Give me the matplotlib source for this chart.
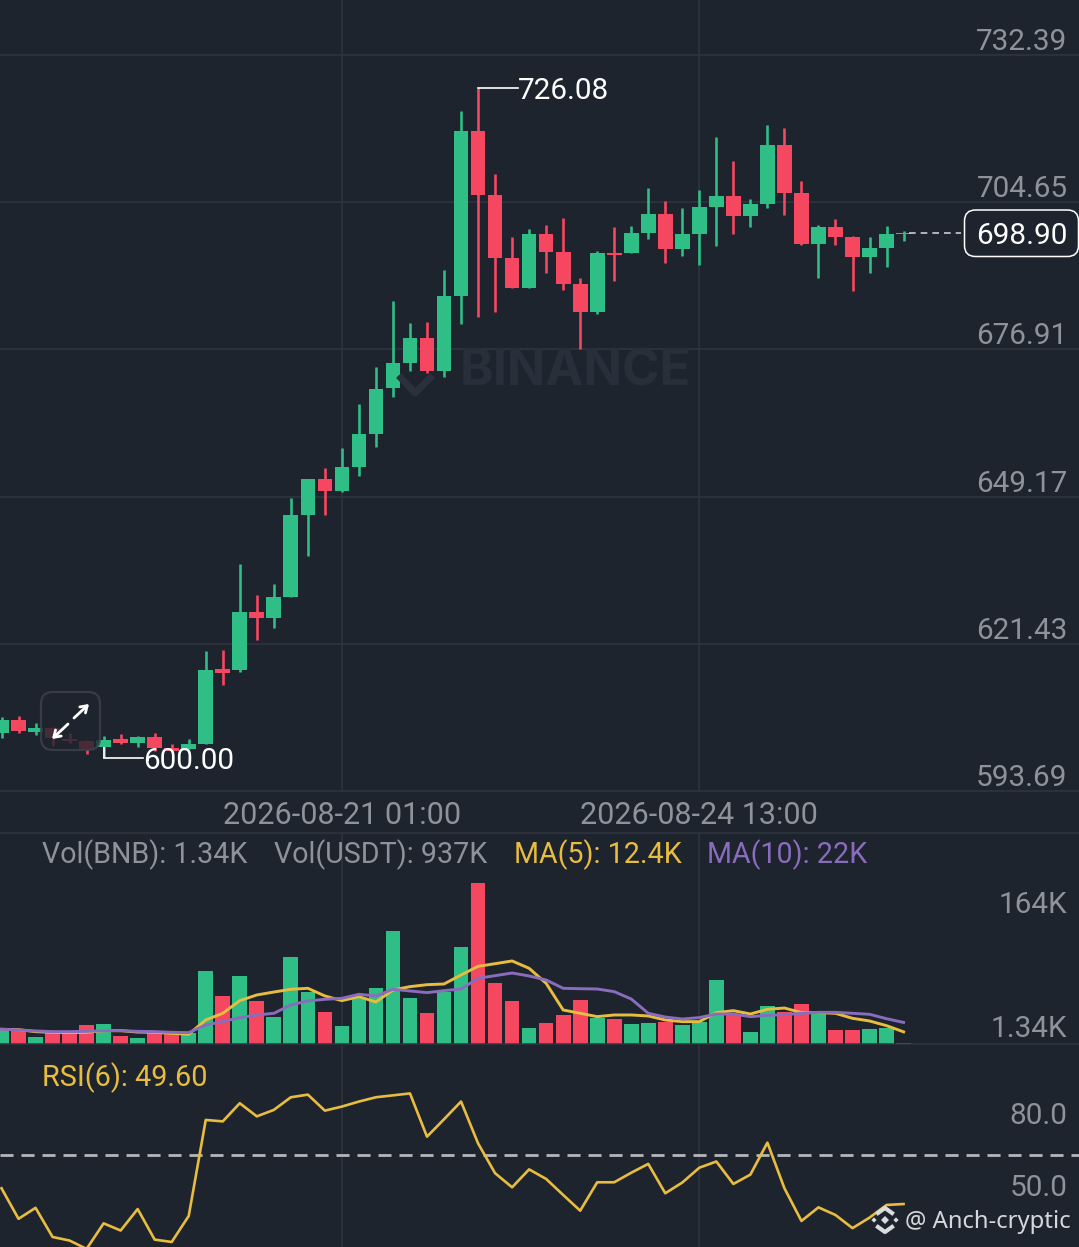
import matplotlib
matplotlib.use("Agg")
import matplotlib.pyplot as plt
from matplotlib.lines import Line2D
from matplotlib.patches import FancyBboxPatch, Polygon

W, H = 1079, 1247
BG = "#1e242e"
GRID = "#30353f"
GREEN = "#2fbe85"
RED = "#f5475f"
YELLOW = "#e8bd3f"
PURPLE = "#8a6cbc"
LABEL = "#8d9399"

plt.rcParams["font.family"] = ["Roboto", "DejaVu Sans"]

# ohlc
opens = [604.68, 607.07, 604.81, 605.56, 603.54, 603.17, 601.93, 603.44, 602.80, 603.81,
         601.74, 601.61, 602.55, 616.77, 616.49, 627.37, 626.23, 630.31, 645.70, 652.49,
         650.28, 654.69, 660.97, 669.58, 674.40, 679.00, 672.90, 686.97, 718.07, 706.01,
         694.08, 688.43, 698.60, 695.27, 689.24, 683.90, 695.13, 695.02, 698.79, 702.37,
         695.77, 698.66, 703.69, 705.82, 702.05, 704.31, 715.43, 706.33, 696.72, 700.03,
         698.04, 694.38, 696.08, 698.66]
highs = [607.69, 607.83, 606.51, 605.75, 604.68, 603.30, 604.06, 604.37, 604.06, 604.68,
         602.55, 603.44, 620.07, 620.26, 636.47, 630.63, 632.64, 648.96, 652.49, 654.50,
         658.27, 666.62, 673.65, 686.09, 681.94, 682.07, 691.87, 721.84, 726.08, 709.96,
         698.03, 699.60, 700.35, 701.73, 690.31, 695.45, 700.03, 700.22, 707.27, 704.93,
         703.50, 706.95, 716.88, 712.41, 705.20, 719.20, 718.58, 708.70, 700.35, 701.43,
         698.34, 698.15, 700.17, 699.28]
lows = [603.68, 604.68, 604.24, 602.17, 602.80, 600.67, 600.00, 602.55, 602.04, 601.29,
        601.10, 601.55, 602.55, 613.67, 616.17, 622.15, 624.35, 630.31, 638.03, 645.70,
        650.09, 653.05, 658.57, 667.88, 672.90, 672.52, 671.65, 681.70, 683.07, 684.01,
        688.43, 688.43, 691.25, 688.10, 676.93, 683.53, 689.86, 695.02, 697.72, 693.25,
        694.51, 692.82, 696.39, 698.60, 700.03, 703.61, 702.24, 696.58, 690.31, 696.58,
        687.92, 691.37, 692.50, 697.39]
closes = [607.07, 605.05, 605.56, 603.68, 603.11, 601.55, 603.30, 602.80, 603.81, 601.74,
          601.29, 602.55, 616.49, 615.93, 627.37, 626.23, 630.31, 645.70, 652.49, 650.28,
          654.69, 660.97, 669.45, 674.29, 679.00, 672.90, 686.88, 718.07, 706.01, 694.08,
          688.43, 698.60, 695.27, 689.24, 683.90, 695.13, 694.64, 698.79, 702.37, 695.77,
          698.66, 703.69, 705.82, 702.05, 704.31, 715.43, 706.33, 696.72, 700.03, 698.04,
          694.38, 695.96, 698.60, 698.90]

# volume in thousands
volume = [13.6, 13.0, 6.8, 10.9, 10.9, 19.4, 20.4, 8.2, 6.5, 10.9,
          10.2, 10.9, 74.5, 49.0, 69.7, 43.5, 27.9, 88.7, 53.4, 32.6,
          18.7, 46.6, 57.5, 115.6, 46.6, 32.0, 53.4, 98.6, 164.0, 61.9,
          43.5, 16.3, 21.1, 29.2, 44.9, 26.2, 25.5, 20.4, 21.4, 22.8,
          19.0, 22.8, 65.3, 30.6, 12.2, 38.8, 33.0, 41.1, 31.3, 13.9,
          14.6, 15.3, 16.7, 1.34]
ma5 = [15.0, 14.6, 12.6, 11.9, 11.6, 11.9, 13.6, 13.6, 12.2, 11.9,
       10.9, 9.9, 24.5, 31.3, 44.2, 50.0, 53.0, 55.8, 56.8, 49.0,
       44.2, 48.3, 42.8, 55.1, 58.5, 60.5, 61.2, 70.4, 79.2, 81.9,
       84.7, 77.2, 61.9, 34.7, 31.3, 27.9, 29.6, 29.6, 28.6, 24.5,
       22.8, 22.8, 32.0, 34.0, 30.6, 35.4, 36.7, 32.0, 32.0, 31.3,
       26.2, 23.5, 18.7, 12.4]
ma10 = [15.0, 14.3, 13.3, 12.6, 12.6, 12.9, 13.6, 13.6, 12.9, 12.6,
        11.9, 11.6, 19.4, 22.8, 26.9, 29.6, 31.3, 39.8, 43.9, 45.6,
        46.6, 50.7, 49.0, 55.8, 54.1, 52.4, 54.4, 56.1, 67.0, 69.7,
        72.4, 69.4, 65.3, 56.8, 56.4, 56.1, 53.4, 45.9, 31.3, 27.5,
        25.5, 26.9, 30.6, 30.6, 27.9, 29.2, 29.9, 31.3, 32.3, 32.3,
        31.3, 30.3, 25.8, 22.0]
rsi = [56.2, 43.4, 48.0, 35.8, 34.3, 30.8, 41.5, 38.5, 47.5, 34.7,
       33.7, 44.6, 84.8, 84.2, 91.8, 86.3, 89.0, 94.3, 95.4, 88.7,
       90.4, 92.5, 94.3, 95.1, 95.9, 77.8, 85.1, 92.5, 75.0, 62.5,
       56.6, 64.1, 60.1, 53.4, 46.8, 58.7, 58.7, 62.7, 66.4, 54.1,
       58.6, 64.8, 67.4, 58.0, 61.9, 75.3, 56.2, 42.5, 48.2, 45.0,
       39.5, 43.9, 49.2, 49.6]

price_ticks = [732.39, 704.65, 676.91, 649.17, 621.43, 593.69]
rsi_ticks = [80.0, 50.0]
date_idx = [20, 41]
date_labels = ["2026-08-21 01:00", "2026-08-24 13:00"]
idx = list(range(len(closes)))

BODY = 14.7 / 17.02
FS = 21.4


def fx(x):
    return x / W


def fy(y):
    return 1 - y / H


def pane(top, bottom, ylim):
    ax = fig.add_axes([0, fy(bottom), 1, (bottom - top) / H])
    ax.set_facecolor(BG)
    ax.set_xlim(-1.5 / 17.02, (W - 1.5) / 17.02)
    ax.set_ylim(*ylim)
    ax.set_xticks([])
    ax.set_yticks([])
    for s in ax.spines.values():
        s.set_visible(False)
    for i in date_idx:
        ax.axvline(i, color=GRID, lw=1.1, zorder=0)
    return ax


def hline(y):
    fig.add_artist(Line2D([0, 1], [fy(y), fy(y)], color=GRID, lw=1.1, transform=fig.transFigure))


def label(x, y, s, color=LABEL, ha="left", size=FS, **kw):
    # baseline sits about 10px under the middle of the digits
    return fig.text(fx(x), fy(y + 10), s, color=color, ha=ha, va="baseline", fontsize=size, **kw)


fig = plt.figure(figsize=(W / 100, H / 100), dpi=100, facecolor=BG)
ax_p = pane(0, 792, (593.50, 742.755))
ax_v = pane(833, 1044, (0, 215.2))
ax_r = pane(1044, 1247, (31.6, 116.6))
hline(833)
hline(1044)

# price pane
for t in price_ticks:
    ax_p.axhline(t, color=GRID, lw=1.1, zorder=0)
    ax_p.annotate(f"{t:.2f}", xy=(1067.5 / W, t), xycoords=ax_p.get_yaxis_transform(),
                  xytext=(0, 5), textcoords="offset pixels", ha="right", va="baseline",
                  color=LABEL, fontsize=FS)

fig.text(fx(460), fy(385), "BINANCE", color="#292f3a", fontsize=36.5, fontweight="bold",
         family=["Inter", "DejaVu Sans"], va="baseline", zorder=0.5)
fig.add_artist(Line2D([fx(401), fx(415), fx(430)], [fy(378), fy(393), fy(378)], color="#2b313c",
                      lw=5, transform=fig.transFigure, zorder=0.5))

for i in idx:
    c = GREEN if closes[i] >= opens[i] else RED
    ax_p.vlines(i, lows[i], highs[i], color=c, lw=1.9, zorder=2)
    ax_p.bar(i, abs(closes[i] - opens[i]), bottom=min(opens[i], closes[i]), width=BODY, color=c, zorder=3)

# high / low callouts
ax_p.plot([28, 28 + 40 / 17.02], [726.08, 726.08], color="white", lw=1.2, zorder=4)
ax_p.vlines(6, 600.0, 601.93, color="white", lw=1.2, zorder=4)
ax_p.plot([6, 6 + 39 / 17.02], [600.0, 600.0], color="white", lw=1.2, zorder=4)
label(518, 89, "726.08", color="white", zorder=8)
label(143, 759, "600.00", color="white", zorder=8)

# last price
ax_p.plot([53.3, 56.4], [closes[-1], closes[-1]], color="#c9ccd1", lw=1.2, ls=(0, (4, 3)), zorder=4)
fig.add_artist(FancyBboxPatch((964.5, H - 256.5), 114, 46.5, boxstyle="round,pad=0,rounding_size=11",
                              transform=None, fc=BG, ec="white", lw=1.1, zorder=6))
label(1067.5, 234, "698.90", color="white", ha="right", zorder=8)

# expand button over the candles
fig.add_artist(FancyBboxPatch((41, H - 750), 59, 58, boxstyle="round,pad=0,rounding_size=12",
                              transform=None, fc=BG, ec="#3d424c", lw=1.6, alpha=0.8, zorder=6))
for a, b in [((74, 718), (89, 704)), ((68, 724), (52, 739))]:
    fig.add_artist(plt.Annotation("", xy=(fx(b[0]), fy(b[1])), xytext=(fx(a[0]), fy(a[1])),
                                  xycoords="figure fraction", textcoords="figure fraction",
                                  arrowprops=dict(arrowstyle="->,head_length=0.45,head_width=0.3", color="white",
                                                  lw=2, shrinkA=0, shrinkB=0), zorder=7))

# date strip
for i, s in zip(date_idx, date_labels):
    label(1.5 + i * 17.02, 814.5, s, ha="center", size=22)

# volume pane
label(42, 853, "Vol(BNB): 1.34K", size=20.6)
label(274, 853, "Vol(USDT): 937K", size=20.6)
label(514, 853, "MA(5): 12.4K", color=YELLOW, size=20.6)
label(707, 853, "MA(10): 22K", color=PURPLE, size=20.6)
label(1067.5, 903, "164K", ha="right", size=FS)
label(1067.5, 1027, "1.34K", ha="right", size=FS)

vol_colors = [GREEN if closes[i] >= opens[i] else RED for i in idx]
ax_v.bar(idx, volume, width=BODY, color=vol_colors, zorder=2)
ax_v.plot(idx, ma5, color=YELLOW, lw=2.1, zorder=3)
ax_v.plot(idx, ma10, color=PURPLE, lw=2.1, zorder=4)

# rsi pane
label(42, 1076, "RSI(6): 49.60", color=YELLOW, size=20.8)
ax_r.axhline(70, color="#b4b6bb", lw=2.0, ls=(0, (4.7, 2.86)), zorder=1)
ax_r.plot(idx, rsi, color=YELLOW, lw=1.9, zorder=3)
for t in rsi_ticks:
    ax_r.annotate(f"{t:.1f}", xy=(1067.5 / W, t), xycoords=ax_r.get_yaxis_transform(),
                  xytext=(0, 7.5), textcoords="offset pixels", ha="right", va="baseline",
                  color=LABEL, fontsize=FS)

# watermark
LOGO = "#d9dbde"
cx, cy = 885, 1220
for dx, dy, r in [(0, 0, 4), (-11, 0, 2.6), (11, 0, 2.6)]:
    fig.add_artist(Polygon([(fx(cx + dx - r), fy(cy + dy)), (fx(cx + dx), fy(cy + dy - r)),
                            (fx(cx + dx + r), fy(cy + dy)), (fx(cx + dx), fy(cy + dy + r))],
                           transform=fig.transFigure, fc=LOGO, ec="none", zorder=8))
for sgn in (-1, 1):
    fig.add_artist(Line2D([fx(cx - 7), fx(cx), fx(cx + 7)], [fy(cy + sgn * 7), fy(cy + sgn * 12), fy(cy + sgn * 7)],
                          color=LOGO, lw=3, transform=fig.transFigure, zorder=8))
fig.text(fx(905), fy(1228), "@ Anch-cryptic", color="#d5d7da", fontsize=17.2,
         family=["Noto Sans", "DejaVu Sans"], va="baseline", zorder=8)

fig.savefig("out.png", dpi=100, facecolor=BG)
